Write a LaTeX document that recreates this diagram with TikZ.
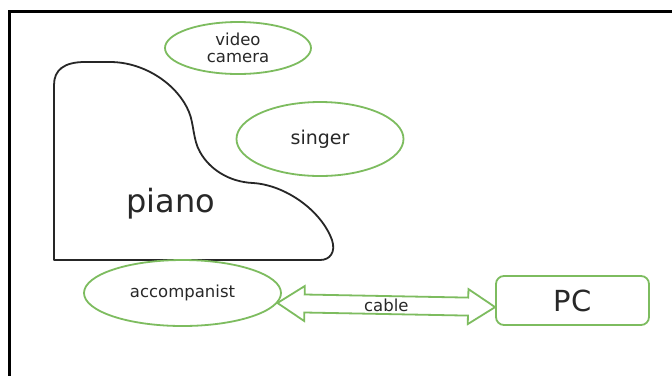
\documentclass[tikz,border=0pt]{standalone}
\usepackage{fontspec}
\setmainfont{DejaVu Sans}
\usetikzlibrary{shapes.geometric,calc}
\definecolor{leaf}{RGB}{125,188,95}
\definecolor{ink}{RGB}{40,40,40}
\tikzset{
  bubble/.style={ellipse, draw=leaf, line width=1.8pt, inner sep=0pt, text=ink},
  pcbox/.style={rectangle, rounded corners=8pt, draw=leaf, line width=1.8pt, inner sep=0pt, text=ink},
  label/.style={inner sep=0pt, text=ink},
  outline/.style={draw=black!85, line width=1.8pt, line join=round},
  frame/.style={draw=black, line width=3pt},
  cablearrow/.style={draw=leaf, line width=1.8pt, fill=white, line join=miter}
}
\begin{document}
\begin{tikzpicture}[x=1pt,y=-1pt]
  \useasboundingbox (0,0) rectangle (672,376);
  \fill[white] (0,0) rectangle (672,376);

  % frame edges along the top and left
  \draw[frame] (672,11) -- (9,11) -- (9,376);

  % grand piano outline
  \draw[outline] (54,260) -- (54,85)
    .. controls (54,70) and (64,62) .. (85,62) -- (110,62)
    .. controls (145,62) and (178,85) .. (189,112)
    .. controls (194,124) and (193,140) .. (200,152)
    .. controls (210,170) and (230,182) .. (253,183)
    .. controls (285,185) and (321,210) .. (332,240)
    .. controls (336,252) and (330,260) .. (320,260) -- cycle;
  \node[label, font=\fontsize{32}{32}\selectfont] (piano) at (171,204) {piano};

  % people and equipment
  \node[bubble, minimum width=146pt, minimum height=52pt, align=center,
        font=\fontsize{16.5}{17.5}\selectfont] (cam) at (238,48) {video\\camera};
  \node[bubble, minimum width=167pt, minimum height=74pt,
        font=\fontsize{19}{19}\selectfont] (singer) at (320,139) {singer};
  \node[bubble, minimum width=197pt, minimum height=66pt,
        font=\fontsize{16.5}{16.5}\selectfont] (acc) at (182.5,293) {accompanist};
  \node[pcbox, minimum width=153pt, minimum height=49pt,
        font=\fontsize{29}{29}\selectfont] (pc) at (572.5,300.5) {PC};

  % block double arrow for the cable
  \coordinate (tipL) at (acc.-6);
  \coordinate (tipR) at ($(pc.south west)!0.37!(pc.north west)$);
  \coordinate (bL) at ($(tipL)!27pt!(tipR)$);
  \coordinate (bR) at ($(tipR)!27pt!(tipL)$);
  \draw[cablearrow] (tipL)
    -- ($(bL)!17.5pt!90:(tipR)$) -- ($(bL)!9pt!90:(tipR)$)
    -- ($(bR)!9pt!-90:(tipL)$) -- ($(bR)!17.5pt!-90:(tipL)$)
    -- (tipR)
    -- ($(bR)!17.5pt!90:(tipL)$) -- ($(bR)!9pt!90:(tipL)$)
    -- ($(bL)!9pt!-90:(tipR)$) -- ($(bL)!17.5pt!-90:(tipR)$)
    -- cycle;
  \node[label, font=\fontsize{16.5}{16.5}\selectfont] (cable) at ($(tipL)!0.5!(tipR)$) {cable};
\end{tikzpicture}
\end{document}
